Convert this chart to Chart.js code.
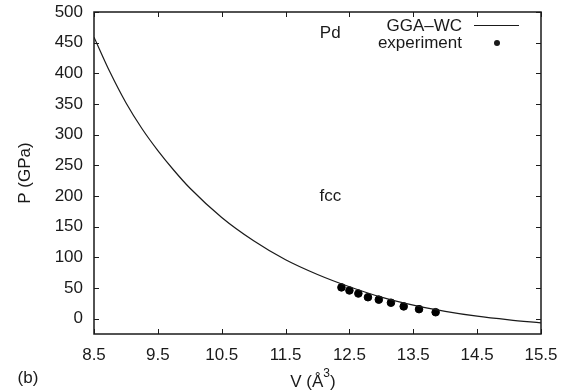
<!DOCTYPE html>
<html>
<head>
<meta charset="utf-8">
<script src="https://cdn.jsdelivr.net/npm/chart.js@4/dist/chart.umd.min.js"></script>
<style>
  html,body{margin:0;padding:0;background:#fff;}
  #wrap{width:569px;height:392px;position:relative;}
</style>
</head>
<body>
<div id="wrap"><canvas id="chart" width="569" height="392"></canvas></div>
<script>
// Pd fcc equation of state: GGA-WC curve vs experiment
const calcV = [8.5, 8.75, 9.0, 9.25, 9.5, 9.75, 10.0, 10.5, 11.0, 11.5, 12.0, 12.5, 13.0, 13.5, 14.0, 14.5, 15.0, 15.5];
const calcP = [459, 402, 352, 310, 274, 242, 213, 165, 127, 96, 72, 52, 35, 22, 12, 4, -2, -7];
const expV = [12.375, 12.5, 12.64, 12.79, 12.96, 13.15, 13.35, 13.59, 13.85];
const expP = [51, 46, 41, 35, 31, 26, 20, 15.5, 10.5];
const xTicks = [8.5, 9.5, 10.5, 11.5, 12.5, 13.5, 14.5, 15.5];
const yTicks = [0, 50, 100, 150, 200, 250, 300, 350, 400, 450, 500];

const FONT = '"Liberation Sans", Arial, sans-serif';
const INK = '#1a1a1a';

function pts(xs, ys){ return xs.map((x,i)=>({x, y: ys[i]})); }

// frame, inward ticks on all four sides, labels and legend
const decor = {
  id: 'decor',
  afterDraw(chart){
    const {ctx, chartArea: a, scales} = chart;
    const xs = scales.x, ys = scales.y;
    ctx.save();
    ctx.strokeStyle = INK; ctx.lineWidth = 1;
    ctx.beginPath();
    xTicks.forEach(v=>{ const px = Math.round(xs.getPixelForValue(v))+0.5;
      ctx.moveTo(px, a.bottom); ctx.lineTo(px, a.bottom-5);
      ctx.moveTo(px, a.top); ctx.lineTo(px, a.top+5); });
    yTicks.forEach(v=>{ const py = Math.round(ys.getPixelForValue(v))+0.5;
      ctx.moveTo(a.left, py); ctx.lineTo(a.left+5, py);
      ctx.moveTo(a.right, py); ctx.lineTo(a.right-5, py); });
    ctx.stroke();
    ctx.lineWidth = 1.5;
    ctx.strokeRect(a.left, a.top, a.right-a.left, a.bottom-a.top);

    ctx.fillStyle = INK;
    const big = '17px ' + FONT, small = '12px ' + FONT;
    ctx.font = big;
    ctx.textAlign = 'center'; ctx.textBaseline = 'middle';
    ctx.fillText('Pd', xs.getPixelForValue(12.2), ys.getPixelForValue(465));
    ctx.fillText('fcc', xs.getPixelForValue(12.2), ys.getPixelForValue(200));

    // x title with superscript 3
    ctx.textAlign = 'left';
    const w1 = ctx.measureText('V (Å').width, w3 = ctx.measureText(')').width;
    ctx.font = small; const w2 = ctx.measureText('3').width;
    let x0 = 313 - (w1 + w2 + w3) / 2;
    ctx.font = big; ctx.fillText('V (Å', x0, 382);
    ctx.font = small; ctx.fillText('3', x0 + w1, 374);
    ctx.font = big; ctx.fillText(')', x0 + w1 + w2, 382);

    ctx.textAlign = 'center';
    ctx.fillText('(b)', 28, 378);
    ctx.save();
    ctx.translate(25, 173); ctx.rotate(-Math.PI/2);
    ctx.fillText('P (GPa)', 0, 0);
    ctx.restore();

    // legend
    ctx.textAlign = 'right';
    ctx.fillText('GGA\u2013WC', 462, 26);
    ctx.fillText('experiment', 462, 43);
    ctx.lineWidth = 1;
    ctx.beginPath(); ctx.moveTo(474, 25.5); ctx.lineTo(519, 25.5); ctx.stroke();
    ctx.beginPath(); ctx.arc(497, 43, 3, 0, Math.PI*2); ctx.fill();
    ctx.restore();
  }
};

new Chart(document.getElementById('chart'), {
  type: 'scatter',
  data: {
    datasets: [
      { label: 'GGA\u2013WC', data: pts(calcV, calcP), showLine: true, borderColor: INK, borderWidth: 1.2,
        pointRadius: 0, cubicInterpolationMode: 'monotone', fill: false },
      { label: 'experiment', data: pts(expV, expP), showLine: false, backgroundColor: '#000', borderColor: '#000',
        pointRadius: 3.8, pointHoverRadius: 3.8 }
    ]
  },
  options: {
    responsive: false,
    animation: false,
    layout: { padding: { left: 0, right: 28, top: 12, bottom: 0 } },
    plugins: { legend: { display: false }, tooltip: { enabled: false } },
    scales: {
      x: {
        type: 'linear', min: 8.5, max: 15.5,
        afterBuildTicks: s => { s.ticks = xTicks.map(v=>({value:v})); },
        afterFit: s => { s.height = 58; s.paddingLeft = 0; s.paddingRight = 0; },
        grid: { display: false, drawTicks: false },
        border: { display: false },
        ticks: { color: INK, font: { family: FONT, size: 17 }, padding: 11, maxRotation: 0,
          callback: v => v.toFixed(1) }
      },
      y: {
        type: 'linear', min: -25, max: 500,
        afterBuildTicks: s => { s.ticks = yTicks.map(v=>({value:v})); },
        afterFit: s => { s.width = 94; s.paddingTop = 0; s.paddingBottom = 0; },
        grid: { display: false, drawTicks: false },
        border: { display: false },
        ticks: { color: INK, font: { family: FONT, size: 17 }, padding: 11 }
      }
    }
  },
  plugins: [decor]
});
</script>
</body>
</html>
